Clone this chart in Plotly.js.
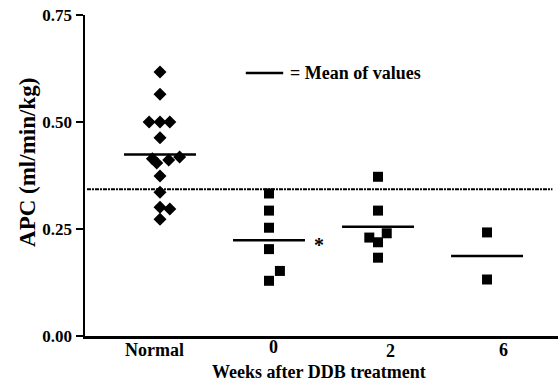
<!DOCTYPE html>
<html>
<head>
<meta charset="utf-8">
<script src="https://cdn.plot.ly/plotly-3.0.1.min.js"></script>
<style>html,body{margin:0;padding:0;background:#fff}#chart{width:558px;height:383px}</style>
</head>
<body>
<div id="chart"></div>
<script>
// ---- data ----
var categories = ['Normal', '0', '2', '6'];
var groupPos = [1, 2, 3, 4];
var normalY  = [0.617, 0.565, 0.500, 0.500, 0.500, 0.463, 0.414, 0.404, 0.411, 0.418, 0.374, 0.336, 0.301, 0.297, 0.273];
var normalDx = [0, 0, -0.10, 0, 0.09, 0, -0.07, -0.03, 0.08, 0.18, 0, 0, 0, 0.09, 0];
var week0Y   = [0.333, 0.293, 0.253, 0.203, 0.152, 0.129];
var week0Dx  = [0, 0, 0, 0, 0.10, 0];
var week2Y   = [0.372, 0.293, 0.230, 0.240, 0.219, 0.183];
var week2Dx  = [0, 0, -0.08, 0.08, 0, 0];
var week6Y   = [0.242, 0.132];
var week6Dx  = [0, 0];
var groupMeans = [0.424, 0.224, 0.255, 0.187];
var referenceLevel = 0.343;
var yTicks = [0.00, 0.25, 0.50, 0.75];
var yTickText = ['0.00', '0.25', '0.50', '0.75'];

// ---- build ----
var serif = '"Liberation Serif", "Times New Roman", serif';
function xs(center, dx) { return dx.map(function (d) { return center + d; }); }

var traces = [];
traces.push({x: xs(groupPos[0], normalDx), y: normalY, mode: 'markers', type: 'scatter',
  marker: {symbol: 'diamond', size: 10, color: '#000'}, hoverinfo: 'y'});
var sqGroups = [[week0Y, week0Dx], [week2Y, week2Dx], [week6Y, week6Dx]];
sqGroups.forEach(function (g, i) {
  traces.push({x: xs(groupPos[i + 1], g[1]), y: g[0], mode: 'markers', type: 'scatter',
    marker: {symbol: 'square', size: 10, color: '#000'}, hoverinfo: 'y'});
});
groupMeans.forEach(function (m, i) {
  traces.push({x: [groupPos[i] - 0.33, groupPos[i] + 0.33], y: [m, m], mode: 'lines', type: 'scatter',
    line: {color: '#000', width: 2.5}, hoverinfo: 'y'});
});
traces.push({x: [0.33, 4.60], y: [referenceLevel, referenceLevel], mode: 'lines', type: 'scatter',
  line: {color: '#000', width: 2, dash: '4px,1px,2px,1px'}, hoverinfo: 'none'});

var tickDx = [-0.05, 0.04, 0.11, 0.15];
var tickShift = [-14, -11, -15, -14];
var annotations = categories.map(function (c, i) {
  return {x: groupPos[i] + tickDx[i], y: 0, xref: 'x', yref: 'paper', text: c, showarrow: false,
    xanchor: 'center', yanchor: 'middle', yshift: tickShift[i],
    font: {family: serif, size: 18, color: '#000', weight: 'bold'}};
});
annotations.push({x: 0.495, y: 0, xref: 'paper', yref: 'paper', text: 'Weeks after DDB treatment',
  showarrow: false, xanchor: 'center', yanchor: 'middle', yshift: -36,
  font: {family: serif, size: 18, color: '#000', weight: 'bold'}});
annotations.push({x: -0.1205, y: 0.539, xref: 'paper', yref: 'paper', text: 'APC (ml/min/kg)',
  showarrow: false, textangle: -90, xanchor: 'center', yanchor: 'middle',
  font: {family: serif, size: 23, color: '#000', weight: 'bold'}});
annotations.push({x: 0.429, y: 0.819, xref: 'paper', yref: 'paper', text: '= Mean of values',
  showarrow: false, xanchor: 'left', yanchor: 'middle',
  font: {family: serif, size: 18, color: '#000', weight: 'bold'}});
annotations.push({x: groupPos[1] + 0.46, y: groupMeans[1], xref: 'x', yref: 'y', text: '*',
  showarrow: false, xanchor: 'center', yanchor: 'middle', yshift: -5,
  font: {family: serif, size: 20, color: '#000', weight: 'bold'}});

var layout = {
  width: 558, height: 383,
  margin: {l: 85, r: 0, t: 15, b: 47},
  paper_bgcolor: '#fff', plot_bgcolor: '#fff',
  showlegend: false,
  xaxis: {range: [0.312, 4.651], showgrid: false, zeroline: false, showline: true,
    linecolor: '#000', linewidth: 2.5, showticklabels: false, ticks: '', fixedrange: true},
  yaxis: {range: [0, 0.75], showgrid: false, zeroline: false, showline: true,
    linecolor: '#000', linewidth: 2.5, ticks: 'outside', ticklen: 7, tickwidth: 2, tickcolor: '#000',
    tickvals: yTicks, ticktext: yTickText,
    tickfont: {family: serif, size: 17, color: '#000', weight: 'bold'}, fixedrange: true},
  shapes: [{type: 'line', xref: 'paper', yref: 'paper', x0: 0.340, x1: 0.419, y0: 0.819, y1: 0.819,
    line: {color: '#000', width: 2.5}}],
  annotations: annotations
};
Plotly.newPlot('chart', traces, layout, {displayModeBar: false, staticPlot: true});
</script>
</body>
</html>
